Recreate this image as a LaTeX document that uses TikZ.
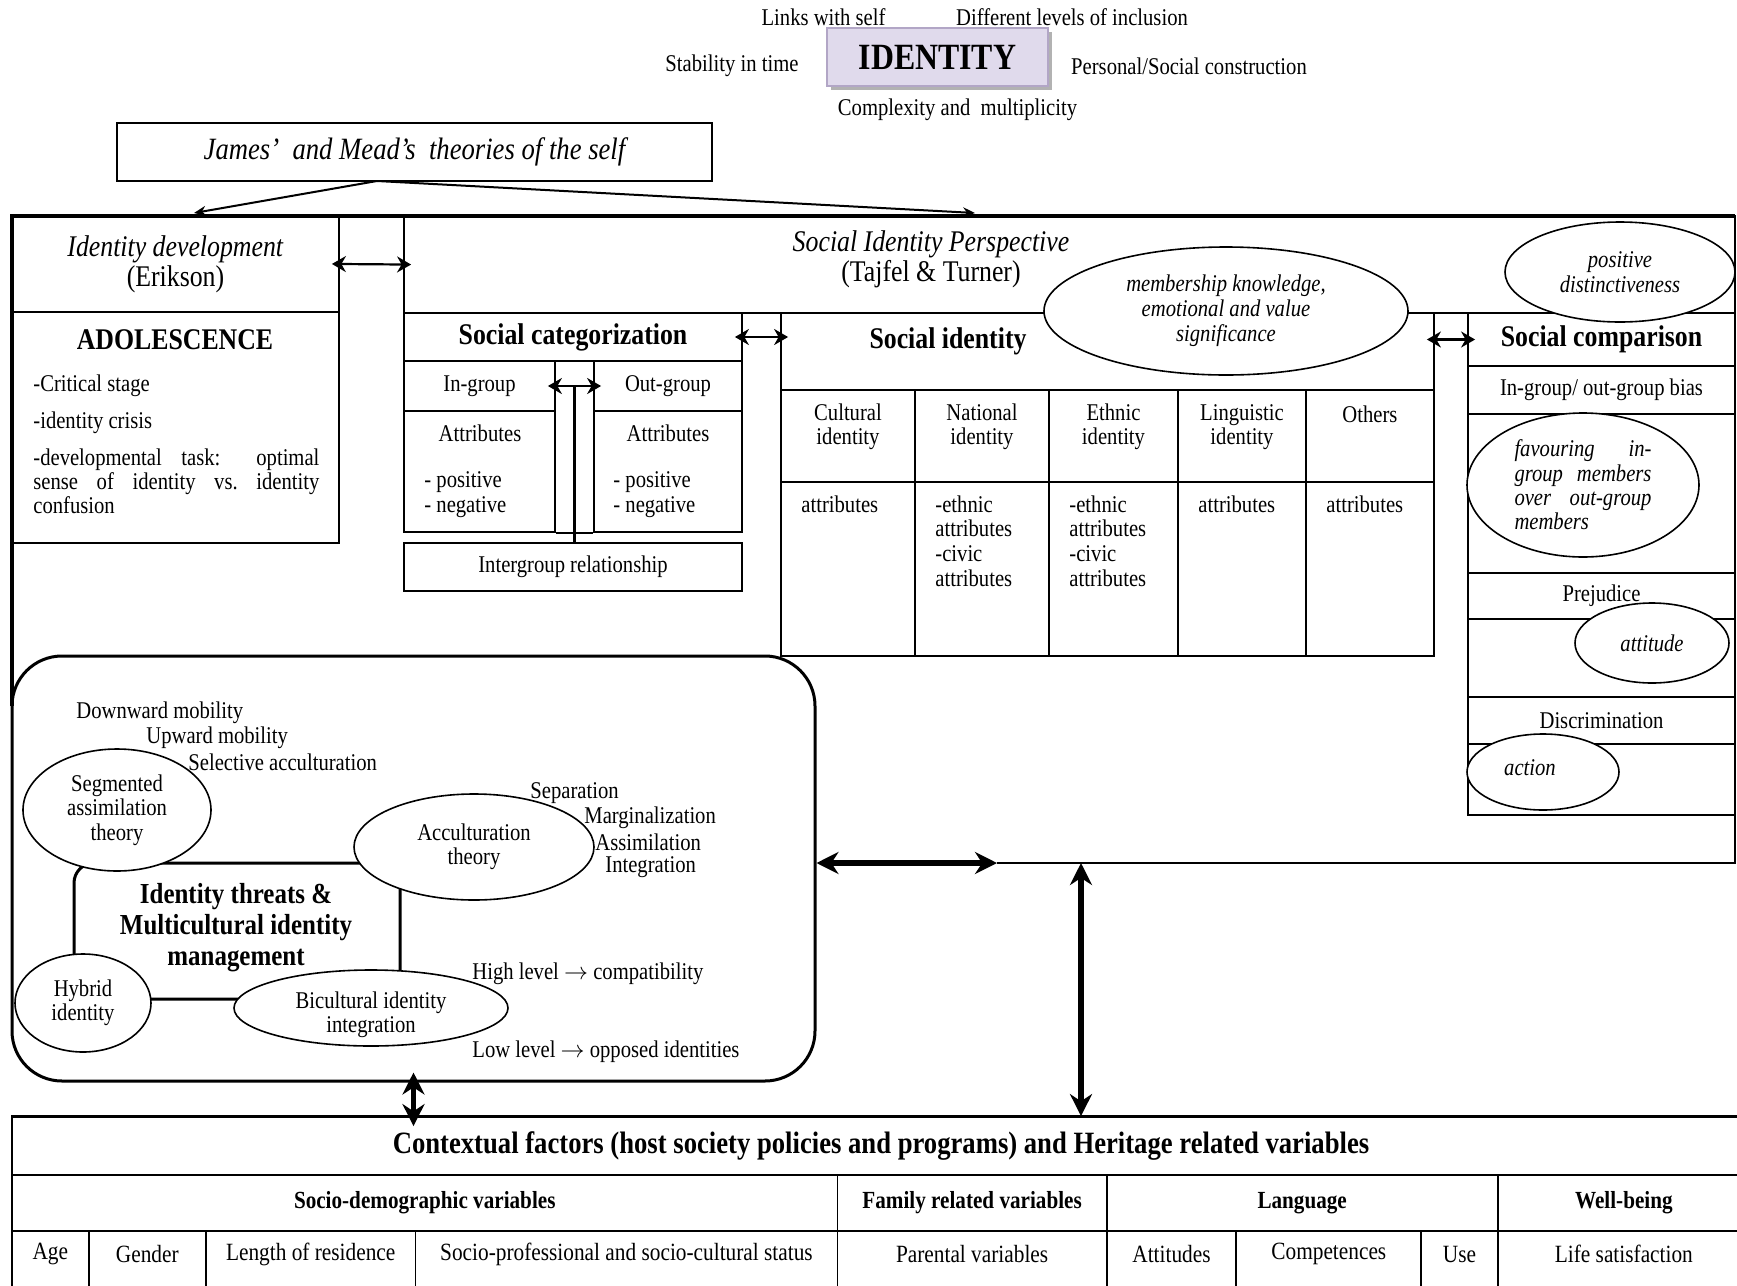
\documentclass[tikz,border=0pt]{standalone}
\usepackage{fontspec}
\setmainfont{Liberation Serif}[FakeStretch=0.86]
\usepackage{tikz}
\usetikzlibrary{arrows.meta,positioning,fit,shapes.geometric,shadows,calc}
\definecolor{lilac}{RGB}{224,218,236}
\definecolor{lilacline}{RGB}{178,166,198}
\newcommand{\Both}[2]{\draw [both] (#1) -- (#2);}
\newcommand{\Cell}[7][]{\node [cell,fit={(#3,#4) (#5,#6)}] (#2) {};
  \node [txt,#1] (#2-t) at (#2.center) {#7};}

\begin{document}
\begin{tikzpicture}
[x=0.5pt, y=-0.5pt,
 txt/.style={inner sep=0pt, font=\fontsize{12}{12.2}\selectfont},
 cell/.style={draw, line width=0.9pt, inner sep=0pt},
 ttl/.style={inner sep=0pt, font=\fontsize{15}{15}\selectfont\bfseries},
 headline/.style={inner sep=0pt, align=center, font=\fontsize{15}{15}\selectfont},
 oval/.style={draw, ellipse, fill=white, line width=0.8pt, inner sep=0pt, align=center, font=\fontsize{12}{12.5}\selectfont\itshape},
 theory/.style={draw, ellipse, fill=white, line width=0.8pt, inner sep=0pt, align=center, txt},
 region/.style={draw, line width=1.5pt, rounded corners=25pt, inner sep=0pt},
 outer/.style={line width=1.6pt},
 link/.style={line width=1.6pt},
 arc/.style={-{Stealth[length=6pt,width=5pt]}, line width=1pt},
 both/.style={{Stealth[length=7pt,width=8pt]}-{Stealth[length=7pt,width=8pt]}, line width=1.1pt, shorten <=-4pt, shorten >=-4pt},
 bigboth/.style={{Stealth[length=11pt,width=11pt]}-{Stealth[length=11pt,width=11pt]}, line width=2.8pt},
 idbox/.style={draw=lilacline, fill=lilac, line width=1pt, minimum width=110.5pt, minimum height=29pt,
   font=\fontsize{18.5}{18.5}\selectfont\bfseries, drop shadow={shadow xshift=2pt, shadow yshift=-2pt, fill=gray!60, opacity=1}},
 sub/.style={font=\fontsize{12.3}{12.5}\selectfont\bfseries},
 rowtxt/.style={inner sep=0pt, font=\fontsize{12.4}{12.5}\selectfont}]

\useasboundingbox (0,0) rectangle (1737,1286);

% identity and its features
\node [idbox] (identity) at (937.5,57) {IDENTITY};
\node [txt] (links) at (823.5,17) {Links with self};
\node [txt] (levels) at (1072,17) {Different levels of inclusion};
\node [txt] (stable) at (732,66) {Stability in time};
\node [txt] (constr) at (1189,66) {Personal/Social construction};
\node [txt] (multi) at (957.5,110) {Complexity and\ \ multiplicity};

\Cell[font=\fontsize{15.5}{15.5}\selectfont\itshape]{james}{117}{123}{712}{181}{James’\ \ and Mead’s\ \ theories of the self}
\coordinate (jfoot) at (377,181);
\coordinate (devtop) at (194,213);
\coordinate (siptop) at (975,213);
\draw [arc] (jfoot) -- (devtop);
\draw [arc] (jfoot) -- (siptop);

% outer frame
\draw [outer] (12,706) -- (12,216) -- (1735,216);
\draw [line width=1.3pt] (1735,216) -- (1735,863) -- (997,863);

% Erikson
\Cell[headline]{iddev}{12}{216}{339}{312}{\textit{Identity development}\\(Erikson)}
\Cell{adol}{12}{312}{339}{543}{}
\node [ttl] (adoltitle) at (175,340) {ADOLESCENCE};
\node [txt, anchor=base west] (crit) at (33,391) {-Critical stage};
\node [txt, anchor=base west] (crisis) at (33,428) {-identity crisis};
\node [txt, anchor=base west, text width=143pt, align=justify] (task) at (33,465)
  {-developmental task: optimal\linebreak sense of identity vs.\ identity\linebreak confusion};

% social identity perspective
\Cell{sip}{404}{216}{1735}{313}{}
\node [headline] (siptitle) at (931,259) {\textit{Social Identity Perspective}\\(Tajfel \& Turner)};
\Both{iddev.east}{sip.west}

% social categorization
\Cell[ttl]{socat}{404}{313}{742}{361}{Social categorization}
\Cell{ingroup}{404}{361}{555}{411}{In-group}
\Cell{inattr}{404}{411}{555}{532}{}
\node [txt] (inattrtxt) at (480,433) {Attributes};
\node [txt, anchor=west, align=left] (inpn) at (424,494.5) {- positive\\- negative};
\Cell{outgroup}{594}{361}{742}{411}{Out-group}
\Cell{outattr}{594}{411}{742}{532}{}
\node [txt] (outattrtxt) at (668,433) {Attributes};
\node [txt, anchor=west, align=left] (outpn) at (613,494.5) {- positive\\- negative};
\Cell{intergroup}{404}{543}{742}{591}{Intergroup relationship}
\draw [line width=0.9pt] (inattr.south east) -- (outattr.south west);
\Both{ingroup.east}{outgroup.west}
\coordinate (gap) at ($(ingroup.east)!.5!(outgroup.west)$);
\draw [link] (gap) -- (gap |- intergroup.north);

% social identity
\Cell{socid}{781}{313}{1434}{390}{}
\node [ttl] (socidtitle) at (948,341) {Social identity};
\foreach \xa/\xb/\n in {781/915/1, 915/1049/2, 1049/1178/3, 1178/1306/4, 1306/1434/5}{
  \Cell{kind\n}{\xa}{390}{\xb}{482}{}
  \Cell{attr\n}{\xa}{482}{\xb}{656}{}
}
\node [txt, align=center] (cult) at (848,427) {Cultural\\identity};
\node [txt, align=center] (nat) at (982,427) {National\\identity};
\node [txt, align=center] (eth) at (1113.5,427) {Ethnic\\identity};
\node [txt, align=center] (ling) at (1242,427) {Linguistic\\identity};
\node [txt] (others) at (1370,414) {Others};
\node [txt, anchor=west] (cultattr) at (801,504) {attributes};
\node [txt, anchor=west, align=left, font=\fontsize{12}{12.4}\selectfont] (natattr) at (935,541) {-ethnic\\attributes\\-civic\\attributes};
\node [txt, anchor=west, align=left, font=\fontsize{12}{12.4}\selectfont] (ethattr) at (1069,541) {-ethnic\\attributes\\-civic\\attributes};
\node [txt, anchor=west] (lingattr) at (1198,504) {attributes};
\node [txt, anchor=west] (othattr) at (1326,504) {attributes};

% social comparison
\Cell[ttl]{scomp}{1468}{313}{1735}{366}{Social comparison}
\Cell{bias}{1468}{366}{1735}{414}{In-group/ out-group bias}
\Cell{favour}{1468}{414}{1735}{573}{}
\Cell{prej}{1468}{573}{1735}{619}{Prejudice}
\Cell{attcell}{1468}{619}{1735}{697}{}
\Cell{discr}{1468}{697}{1735}{744}{Discrimination}
\Cell{actcell}{1468}{744}{1735}{815}{}
\Both{socat.east}{socat.east -| socid.west}
\Both{socid.east |- scomp.west}{scomp.west}

\node [oval, minimum width=182pt, minimum height=64pt] (member) at (1226,311) {membership knowledge,\\emotional and value\\significance};
\node [oval, minimum width=115pt, minimum height=50pt] (distinct) at (1620,272) {positive\\distinctiveness};
\node [oval, minimum width=116pt, minimum height=72pt, text width=68.5pt, align=justify, font=\fontsize{12}{12.2}\selectfont\itshape] (favouring) at (1583,485)
  {favouring in-\linebreak group members\linebreak over out-group\linebreak members};
\node [oval, minimum width=77pt, minimum height=40pt] (attitude) at (1652,643) {attitude};
\node [oval, minimum width=76pt, minimum height=38pt] (action) at (1543,772) {};
\node [txt, font=\fontsize{12}{12.5}\selectfont\itshape] (actiontxt) at (1530,768) {action};

% multicultural identity
\node [region, fit={(12,656) (815,1081)}] (mcid) {};
\node [region, rounded corners=10pt, fit={(74,863) (400,999)}] (threat) {};
\node [align=center, inner sep=0pt, font=\fontsize{14.5}{15.5}\selectfont\bfseries] (threattxt) at (236,928)
  {Identity threats \&\\Multicultural identity\\management};
\node [theory, minimum width=94pt, minimum height=61pt] (segment) at (117,810) {Segmented\\assimilation\\theory};
\node [theory, minimum width=120pt, minimum height=53pt] (accult) at (474,847) {Acculturation\\theory};
\node [theory, minimum width=68pt, minimum height=49pt] (hybrid) at (83,1003) {Hybrid\\identity};
\node [theory, minimum width=137pt, minimum height=38pt] (bicult) at (371,1008) {};
\node [txt, align=center] (bictxt) at (371,1015) {Bicultural identity\\integration};
\node [txt, anchor=west] (down) at (76,713) {Downward mobility};
\node [txt, anchor=west] (up) at (146,738) {Upward mobility};
\node [txt, anchor=west] (select) at (188,762) {Selective acculturation};
\node [txt, anchor=west] (sep) at (530,793) {Separation};
\node [txt, anchor=west] (marg) at (584,818) {Marginalization};
\node [txt, anchor=west] (assim) at (595,842) {Assimilation};
\node [txt, anchor=west] (integ) at (605,867) {Integration};
\node [txt, anchor=west] (high) at (472,974) {High level $\rightarrow$ compatibility};
\node [txt, anchor=west] (low) at (472,1052) {Low level $\rightarrow$ opposed identities};

% contextual factors
\Cell[font=\fontsize{15.5}{15.5}\selectfont\bfseries]{ctx}{12}{1117}{1750}{1175}{Contextual factors (host society policies and programs) and Heritage related variables}
\draw [outer] (ctx.north west) -- (ctx.north east);
\Cell[sub]{sociodem}{12}{1175}{837.5}{1231}{Socio-demographic variables}
\Cell[sub]{family}{837.5}{1175}{1106.7}{1231}{Family related variables}
\Cell[sub]{lang}{1106.7}{1175}{1497.7}{1231}{Language}
\Cell[sub]{well}{1497.7}{1175}{1750}{1231}{Well-being}
\foreach \xa/\xb/\n/\t in {12/88.6/age/Age, 88.6/206/gender/Gender, 206/415.4/resid/Length of residence,
  415.4/837.5/status/Socio-professional and socio-cultural status, 837.5/1106.7/parent/Parental variables,
  1106.7/1236.3/attitudes/Attitudes, 1236.3/1421.3/compet/Competences, 1421.3/1497.7/use/Use,
  1497.7/1750/life/Life satisfaction}{
  \Cell{\n}{\xa}{1231}{\xb}{1300}{}
  \node [rowtxt] (\n-r) at ($(\n.north)+(0,24)$) {\t};
}

\coordinate (fcorner) at (997,863);
\coordinate (fdrop) at (1081,863);
\draw [bigboth] (mcid.east |- fcorner) -- (fcorner);
\draw [bigboth] (fdrop) -- (fdrop |- ctx.north);
\draw [bigboth, shorten <=-5pt, shorten >=-5pt] (mcid.south) -- (mcid.south |- ctx.north);
\end{tikzpicture}
\end{document}
